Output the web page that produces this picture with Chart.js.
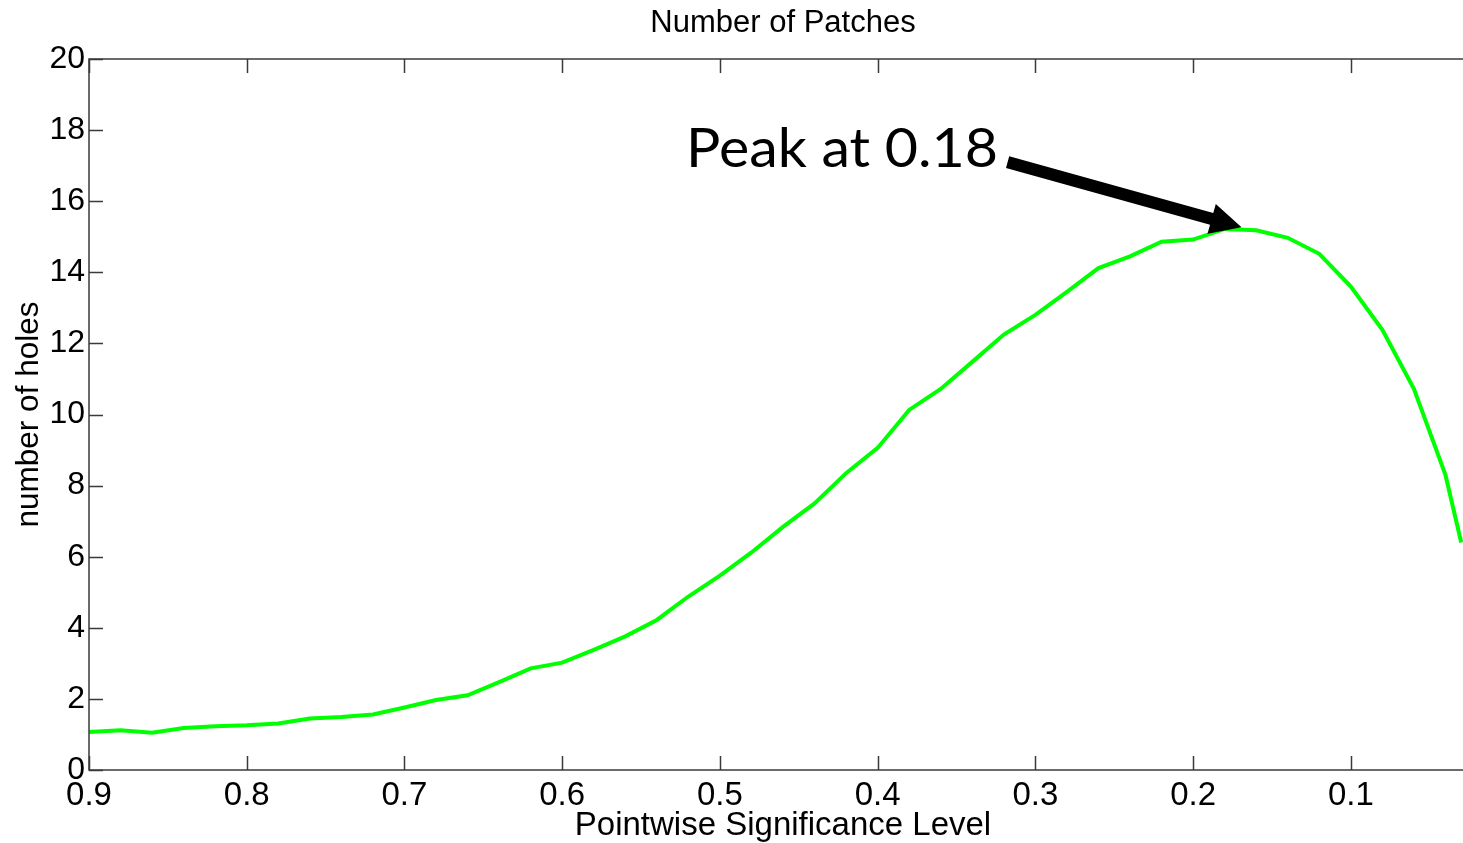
<!DOCTYPE html>
<html>
<head>
<meta charset="utf-8">
<title>Number of Patches</title>
<script src="https://cdn.jsdelivr.net/npm/chart.js@4.4.1/dist/chart.umd.min.js"></script>
<style>
  html, body { margin: 0; padding: 0; background: #ffffff; overflow: hidden; }
  #wrap { position: relative; width: 1463px; height: 843px; overflow: hidden; }
  #chart { display: block; }
</style>
</head>
<body>
<div id="wrap"><canvas id="chart" width="1480" height="843"></canvas></div>
<script>
// Pointwise significance level (x) and the number of holes found at each level (y)
const SIGNIFICANCE = [
  0.90, 0.88, 0.86, 0.84, 0.82, 0.80, 0.78, 0.76, 0.74, 0.72,
  0.70, 0.68, 0.66, 0.64, 0.62, 0.60, 0.58, 0.56, 0.54, 0.52,
  0.50, 0.48, 0.46, 0.44, 0.42, 0.40, 0.38, 0.36, 0.34, 0.32,
  0.30, 0.28, 0.26, 0.24, 0.22, 0.20, 0.18, 0.16, 0.14, 0.12,
  0.10, 0.08, 0.06, 0.04, 0.03
];
const HOLES = [
  1.07, 1.12, 1.05, 1.18, 1.23, 1.26, 1.31, 1.45, 1.49, 1.56,
  1.76, 1.97, 2.10, 2.47, 2.86, 3.02, 3.38, 3.76, 4.22, 4.88,
  5.47, 6.12, 6.84, 7.50, 8.35, 9.06, 10.13, 10.72, 11.48, 12.25,
  12.80, 13.45, 14.12, 14.45, 14.86, 14.92, 15.22, 15.18, 14.97, 14.52,
  13.60, 12.38, 10.72, 8.30, 6.40
];
const X_TICKS = [0.9, 0.8, 0.7, 0.6, 0.5, 0.4, 0.3, 0.2, 0.1];
const Y_TICKS = [0, 2, 4, 6, 8, 10, 12, 14, 16, 18, 20];

const PEAK_LABEL = 'Peak at 0.18';

// Callout placement in data units (text anchor, arrow tail, arrow tip)
const CALLOUT = {
  text: { x: 0.5215, y: 16.97 },
  tail: { x: 0.3176, y: 17.10 },
  tip:  { x: 0.1693, y: 15.27 }
};

const AXIS_FONT = "'Liberation Sans', Arial, Helvetica, sans-serif";
const FRAME_COLOR = '#3a3a3a';

// MATLAB-style boxed axes with inward ticks on all four sides
const boxAxes = {
  id: 'boxAxes',
  afterDatasetsDraw(chart) {
    const { ctx, chartArea: a, scales } = chart;
    const len = 14;
    ctx.save();
    ctx.strokeStyle = FRAME_COLOR;
    ctx.lineWidth = 1.5;
    ctx.beginPath();
    scales.x.ticks.forEach(t => {
      const px = Math.round(scales.x.getPixelForValue(t.value)) + 0.5;
      ctx.moveTo(px, a.bottom); ctx.lineTo(px, a.bottom - len);
      ctx.moveTo(px, a.top); ctx.lineTo(px, a.top + len);
    });
    scales.y.ticks.forEach(t => {
      const py = Math.round(scales.y.getPixelForValue(t.value)) + 0.5;
      ctx.moveTo(a.left, py); ctx.lineTo(a.left + len, py);
      ctx.moveTo(a.right, py); ctx.lineTo(a.right - len, py);
    });
    ctx.stroke();
    ctx.strokeRect(a.left, a.top, a.right - a.left, a.bottom - a.top);
    ctx.restore();
  }
};

// Text callout with a thick arrow pointing at the peak
const peakCallout = {
  id: 'peakCallout',
  afterDraw(chart) {
    const { ctx, scales: { x, y } } = chart;
    const P = p => ({ x: x.getPixelForValue(p.x), y: y.getPixelForValue(p.y) });
    const tail = P(CALLOUT.tail), tip = P(CALLOUT.tip), anchor = P(CALLOUT.text);

    ctx.save();
    // label: humanist sans, condensed horizontally
    const size = 55;
    ctx.font = size + "px Lato, 'Open Sans', sans-serif";
    ctx.fillStyle = '#000000';
    ctx.textBaseline = 'alphabetic';
    ctx.textAlign = 'left';
    const w = ctx.measureText(PEAK_LABEL).width;
    const sx = 312 / w;
    ctx.translate(anchor.x, anchor.y);
    ctx.scale(sx, 1);
    ctx.fillText(PEAK_LABEL, 0, 0);
    ctx.restore();

    // arrow
    const dx = tip.x - tail.x, dy = tip.y - tail.y;
    const L = Math.hypot(dx, dy);
    const ux = dx / L, uy = dy / L, nx = -uy, ny = ux;
    const headLen = 31, headHalf = 15.5, shaftHalf = 6;
    const bx = tip.x - ux * headLen, by = tip.y - uy * headLen;
    ctx.save();
    ctx.fillStyle = '#000000';
    ctx.beginPath();
    ctx.moveTo(tail.x + nx * shaftHalf, tail.y + ny * shaftHalf);
    ctx.lineTo(bx + nx * shaftHalf, by + ny * shaftHalf);
    ctx.lineTo(bx + nx * headHalf, by + ny * headHalf);
    ctx.lineTo(tip.x, tip.y);
    ctx.lineTo(bx - nx * headHalf, by - ny * headHalf);
    ctx.lineTo(bx - nx * shaftHalf, by - ny * shaftHalf);
    ctx.lineTo(tail.x - nx * shaftHalf, tail.y - ny * shaftHalf);
    ctx.closePath();
    ctx.fill();
    ctx.restore();
  }
};

const points = SIGNIFICANCE.map((s, i) => ({ x: s, y: HOLES[i] }));

new Chart(document.getElementById('chart'), {
  type: 'line',
  data: {
    datasets: [{
      label: 'number of holes',
      data: points,
      borderColor: '#00ff00',
      borderWidth: 4,
      pointRadius: 0,
      tension: 0,
      fill: false
    }]
  },
  options: {
    responsive: false,
    animation: false,
    devicePixelRatio: 1,
    layout: { padding: { left: 0, right: 3, top: 0, bottom: 0 } },
    plugins: {
      legend: { display: false },
      tooltip: { enabled: false },
      title: { display: false }
    },
    scales: {
      x: {
        type: 'linear',
        position: 'bottom',
        reverse: true,
        min: 0.02,
        max: 0.9,
        afterBuildTicks: s => { s.ticks = X_TICKS.map(v => ({ value: v })); },
        afterFit: s => { s.height = 73; },
        grid: { display: false, drawTicks: false },
        border: { display: false },
        ticks: {
          padding: 6,
          color: '#000000',
          font: { family: AXIS_FONT, size: 33 },
          maxRotation: 0,
          autoSkip: false,
          callback: v => Number(v).toFixed(1)
        },
        title: {
          display: true,
          text: 'Pointwise Significance Level',
          color: '#000000',
          font: { family: AXIS_FONT, size: 33, lineHeight: 1.05 },
          padding: { top: 0, bottom: 0 }
        }
      },
      xTop: {
        type: 'linear',
        position: 'top',
        display: true,
        afterFit: s => { s.height = 59; },
        grid: { display: false, drawTicks: false },
        border: { display: false },
        ticks: { display: false },
        title: {
          display: true,
          text: 'Number of Patches',
          color: '#000000',
          font: { family: AXIS_FONT, size: 31 },
          padding: { top: 5, bottom: 0 }
        }
      },
      y: {
        type: 'linear',
        position: 'left',
        min: 0,
        max: 20,
        afterBuildTicks: s => { s.ticks = Y_TICKS.map(v => ({ value: v })); },
        afterFit: s => { s.width = 89; },
        grid: { display: false, drawTicks: false },
        border: { display: false },
        ticks: {
          padding: 4,
          color: '#000000',
          font: { family: AXIS_FONT, size: 32 },
          callback: v => String(v)
        },
        title: {
          display: true,
          text: 'number of holes',
          color: '#000000',
          font: { family: AXIS_FONT, size: 31.5 },
          padding: { top: 10, bottom: 0 }
        }
      }
    }
  },
  plugins: [boxAxes, peakCallout]
});
</script>
</body>
</html>
